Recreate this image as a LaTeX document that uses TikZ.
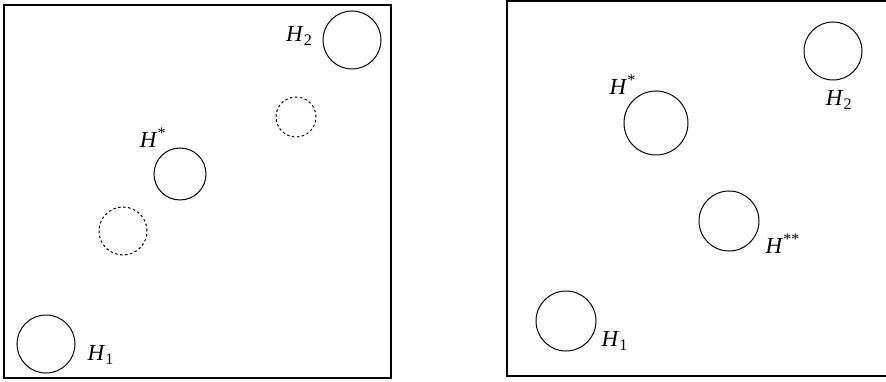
\documentclass[tikz,border=0pt]{standalone}
\usepackage{fontspec}
\setmainfont{Liberation Serif}
\usepackage{tikz}
\usetikzlibrary{positioning}

\newcommand{\hsub}[1]{\textit{H}\textsubscript{#1}}
\newcommand{\hsup}[1]{\textit{H}\textsuperscript{#1}}

\begin{document}
\begin{tikzpicture}[
  x=1pt, y=-1pt,
  frame/.style={line width=1.3pt},
  hole/.style={draw, circle, inner sep=0pt, line width=1pt},
  ghost/.style={hole, dash pattern=on 2.5pt off 2.5pt},
  lbl/.style={inner sep=0pt, font=\fontsize{23}{27}\selectfont}
]
\useasboundingbox (0,0) rectangle (886,382);

% left panel
\draw[frame] (4,5) rectangle (391,378);
\node[hole, minimum size=58pt] (l2) at (352,40) {};
\node[lbl, left=10pt of l2, yshift=4pt] (l2t) {\hsub{2}};
\node[ghost, minimum size=40pt] (la) at (296,117) {};
\node[hole, minimum size=52pt] (ls) at (180,174) {};
\node[lbl, above left=8pt and -5pt of ls] (lst) {\hsup{*}};
\node[ghost, minimum size=48pt] (lb) at (123,231) {};
\node[hole, minimum size=58pt] (l1) at (46,344) {};
\node[lbl, right=12pt of l1, yshift=-11pt] (l1t) {\hsub{1}};

% right panel (cut off at the page edge)
\draw[frame] (886,1) -- (507,1) -- (507,376) -- (886,376);
\node[hole, minimum size=58pt] (r2) at (833,51) {};
\node[lbl, below=10pt of r2, xshift=6pt] (r2t) {\hsub{2}};
\node[hole, minimum size=64pt] (rs) at (656,123) {};
\node[lbl, above left=5pt and -3pt of rs] (rst) {\hsup{*}};
\node[hole, minimum size=60pt] (rss) at (729,221) {};
\node[lbl, right=6pt of rss, yshift=-23pt] (rsst) {\hsup{**}};
\node[hole, minimum size=60pt] (r1) at (566,321) {};
\node[lbl, right=5pt of r1, yshift=-20pt] (r1t) {\hsub{1}};
\end{tikzpicture}
\end{document}
